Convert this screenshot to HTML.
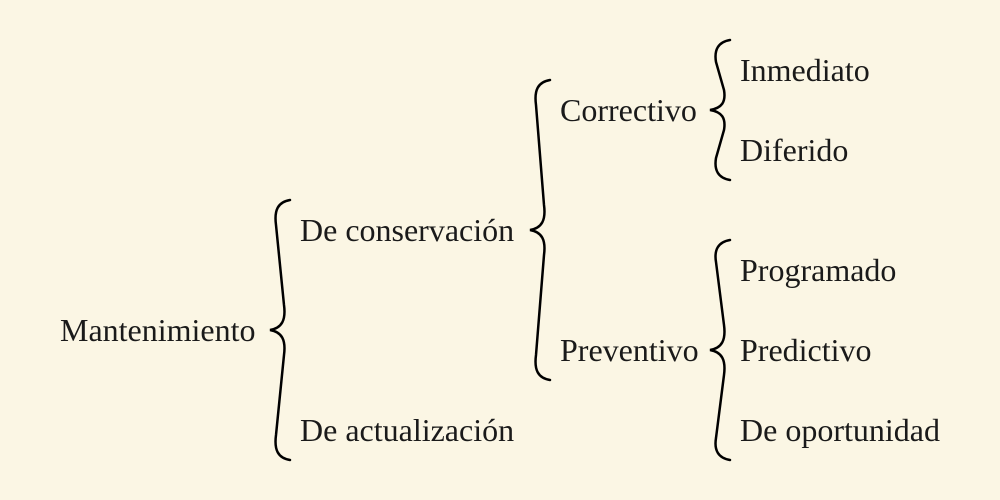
<!DOCTYPE html>
<html><head><meta charset="utf-8"><style>
html,body{margin:0;padding:0;background:#fbf6e4;}
svg{display:block}
text{font-family:"Liberation Serif",serif;font-size:32px;fill:#1a1a1a;dominant-baseline:central}
path{fill:none;stroke:#000;stroke-width:2.5;stroke-linecap:round}
</style></head><body>
<svg width="1000" height="500" viewBox="0 0 1000 500">
<rect width="1000" height="500" fill="#fbf6e4"/>
<path d="M290,200 C278,202 274,210 276,225 L284,305 C286,320 282,328 270,330 C282,332 286,340 284,355 L276,435 C274,450 278,458 290,460"/>
<path d="M550,80 C538,82 534,90 536,105 L544,205 C546,220 542,228 530,230 C542,232 546,240 544,255 L536,355 C534,370 538,378 550,380"/>
<path d="M730,40 C718,42 714,50 716,62 L724,90 C726,102 722,108 710,110 C722,112 726,118 724,130 L716,158 C714,170 718,178 730,180"/>
<path d="M730,240 C718,242 714,250 716,262 L724,325 C726,340 722,348 710,350 C722,352 726,360 724,375 L716,438 C714,450 718,458 730,460"/>
<text x="60" y="330">Mantenimiento</text>
<text x="300" y="230">De conservación</text>
<text x="300" y="430">De actualización</text>
<text x="560" y="110">Correctivo</text>
<text x="560" y="350">Preventivo</text>
<text x="740" y="70">Inmediato</text>
<text x="740" y="150">Diferido</text>
<text x="740" y="270">Programado</text>
<text x="740" y="350">Predictivo</text>
<text x="740" y="430">De oportunidad</text>
</svg>
</body></html>
